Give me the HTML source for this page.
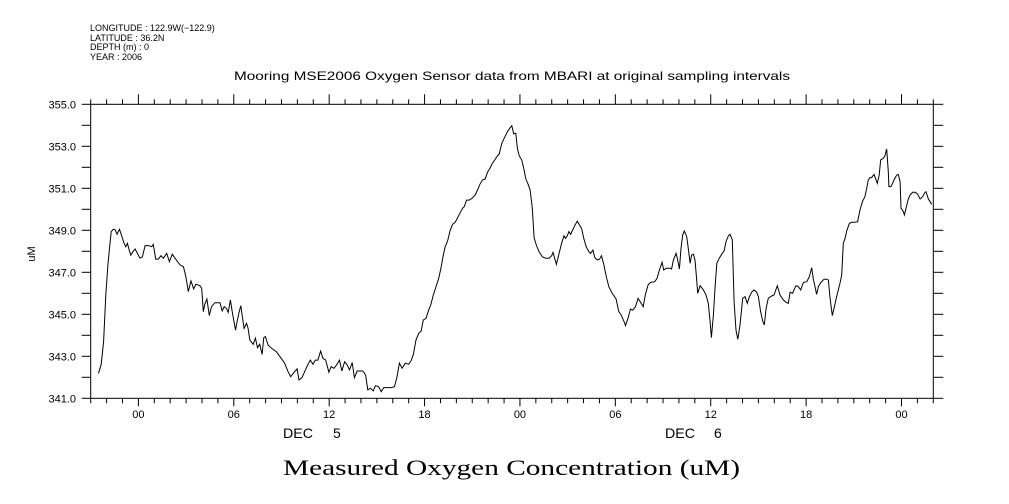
<!DOCTYPE html>
<html><head><meta charset="utf-8"><style>
html,body{margin:0;padding:0;background:#fff;}
svg{display:block;font-family:"Liberation Sans",sans-serif;}
</style></head><body>
<svg id="chart" width="1009" height="504" viewBox="0 0 1009 504" xmlns="http://www.w3.org/2000/svg">
<g font-size="9" fill="#000">
<text x="90" y="31">LONGITUDE : 122.9W(−122.9)</text>
<text x="90" y="41">LATITUDE : 36.2N</text>
<text x="90" y="50">DEPTH (m) : 0</text>
<text x="90" y="60">YEAR : 2006</text>
</g>
<text x="512" y="80" font-size="12" text-anchor="middle" textLength="556" lengthAdjust="spacingAndGlyphs">Mooring MSE2006 Oxygen Sensor data from MBARI at original sampling intervals</text>
<text transform="translate(35,254) rotate(-90)" font-size="11" text-anchor="middle">uM</text>
<g font-size="14">
<text x="283" y="438" textLength="30" lengthAdjust="spacingAndGlyphs">DEC</text>
<text x="333" y="438">5</text>
</g>
<g font-size="14">
<text x="665" y="438" textLength="30" lengthAdjust="spacingAndGlyphs">DEC</text>
<text x="714" y="438">6</text>
</g>
<text x="283" y="475" font-size="22" font-family="Liberation Serif, serif" textLength="457" lengthAdjust="spacingAndGlyphs">Measured Oxygen Concentration (uM)</text>
<g id="axes"></g>
<g id="plot"></g>
</svg>
<script>
const hours = [-2.51,-2.34,-2.19,-2.05,-1.92,-1.82,-1.71,-1.57,-1.46,-1.34,-1.19,-1.04,-0.90,-0.79,-0.69,-0.58,-0.48,-0.35,-0.21,-0.06,0.11,0.25,0.42,0.63,0.84,0.94,1.09,1.26,1.42,1.57,1.78,1.95,2.13,2.30,2.62,2.83,2.99,3.14,3.31,3.47,3.62,3.87,3.98,4.08,4.18,4.31,4.46,4.60,4.81,5.13,5.27,5.40,5.54,5.65,5.79,5.90,6.11,6.21,6.34,6.44,6.55,6.65,6.80,6.90,7.01,7.22,7.36,7.49,7.63,7.78,7.89,7.99,8.16,8.37,8.68,8.99,9.20,9.41,9.58,9.79,9.98,10.10,10.29,10.46,10.67,10.81,10.98,11.13,11.29,11.46,11.61,11.78,11.98,12.13,12.30,12.49,12.65,12.80,12.97,13.11,13.28,13.45,13.59,13.76,14.12,14.29,14.43,14.60,14.77,14.91,15.10,15.27,15.43,
15.54,15.90,16.10,16.25,16.42,16.59,16.79,17.00,17.15,17.30,17.46,17.63,17.78,17.92,18.09,18.26,18.40,18.55,18.72,18.89,19.03,19.18,19.30,19.45,19.60,19.76,19.93,20.08,20.22,20.39,20.50,20.64,20.81,20.98,21.19,21.33,21.48,21.65,21.81,21.96,22.11,22.27,22.42,22.59,22.69,22.86,23.01,23.21,23.36,23.49,23.61,23.74,23.84,23.95,24.11,24.22,24.36,24.51,24.64,24.78,24.89,25.03,25.20,25.41,25.62,25.83,26.00,26.08,26.18,26.29,26.46,26.62,26.77,26.87,26.98,27.08,27.19,27.29,27.46,27.61,27.75,27.88,28.02,28.17,28.34,28.44,28.59,28.71,28.86,29.01,29.13,29.28,29.43,29.59,29.80,30.05,30.22,30.39,30.53,30.64,30.81,30.95,31.10,31.27,31.43,31.58,31.75,31.89,32.06,32.21,32.48,32.62,32.77,32.94,33.04,33.19,
33.44,33.54,33.65,33.82,33.90,34.03,34.13,34.24,34.34,34.49,34.59,34.70,34.80,34.91,35.01,35.12,35.18,35.33,35.54,35.70,35.85,35.96,36.04,36.17,36.27,36.38,36.54,36.69,36.84,36.96,37.11,37.21,37.36,37.47,37.59,37.70,37.84,38.01,38.16,38.30,38.43,38.58,38.72,38.89,39.00,39.14,39.27,39.37,39.48,39.62,39.83,39.98,40.19,40.36,40.57,40.74,40.88,40.99,41.15,41.24,41.36,41.51,41.66,41.83,42.04,42.20,42.35,42.45,42.56,42.66,42.77,42.92,43.13,43.29,43.40,43.50,43.65,43.78,43.92,44.13,44.24,44.34,44.45,44.55,44.72,44.87,45.08,45.24,45.39,45.54,45.70,45.81,45.91,46.02,46.12,46.27,46.40,46.48,46.59,46.69,46.86,46.96,47.03,47.07,47.17,47.21,47.34,47.44,47.53,47.70,47.80,47.91,47.97,48.12,48.18,48.33,48.43,48.54,48.70,48.85,49.00,49.17,49.33,49.48,49.54,49.69,49.90];
const oxygen = [342.19,342.62,343.70,345.92,347.35,348.14,348.94,349.05,349.02,348.81,349.05,348.70,348.38,348.22,348.38,348.06,347.82,347.98,348.11,347.90,347.67,347.74,348.27,348.27,348.22,348.33,347.63,347.63,347.79,347.67,347.90,347.51,347.86,347.67,347.35,347.27,346.79,346.08,346.59,346.21,346.43,346.36,346.24,345.13,345.48,345.73,344.94,345.36,345.55,345.55,345.16,345.36,345.28,345.09,345.68,345.13,344.25,344.65,345.13,345.41,344.84,344.33,344.57,344.33,343.78,343.57,343.86,343.41,343.57,343.09,343.89,343.94,343.54,343.38,343.22,342.90,342.67,342.27,342.03,342.24,342.40,341.87,341.98,342.27,342.62,342.82,342.62,342.82,342.82,343.25,342.90,342.82,342.24,342.51,342.43,342.62,342.82,342.30,342.74,342.62,342.35,342.70,341.98,342.30,342.30,342.11,341.40,341.48,341.35,341.60,341.56,341.32,341.51,
341.51,341.51,341.55,341.95,342.67,342.43,342.67,342.62,342.78,343.09,343.78,344.09,344.20,344.73,344.81,345.20,345.47,345.92,346.32,346.71,347.19,347.82,348.22,348.49,348.97,349.28,349.38,349.60,349.81,350.05,350.13,350.44,350.44,350.52,350.68,350.92,351.19,351.40,351.44,351.76,351.95,352.19,352.35,352.55,352.62,353.14,353.38,353.70,353.86,353.98,353.59,353.62,352.90,352.55,352.35,352.03,351.47,351.19,350.92,350.05,348.65,348.30,347.98,347.74,347.67,347.67,347.79,347.95,347.67,347.38,347.90,348.38,348.74,348.62,348.74,348.94,348.81,348.97,349.25,349.44,349.25,349.09,348.59,348.22,347.98,347.90,348.06,347.70,347.59,347.63,347.79,347.35,346.79,346.32,346.00,345.73,345.13,344.94,344.68,344.46,344.84,345.25,345.20,345.36,345.76,345.57,345.36,345.95,346.40,346.52,346.55,346.71,347.11,347.48,347.11,347.19,
347.19,347.16,347.59,347.90,347.67,347.16,348.14,348.78,348.97,348.70,348.14,347.43,347.82,347.86,347.59,346.63,346.00,346.36,346.16,345.92,345.52,344.65,343.89,344.97,346.24,347.43,347.67,347.86,348.02,348.46,348.74,348.81,348.54,345.60,344.25,343.81,344.49,345.76,345.84,345.52,345.84,346.05,346.16,346.05,345.84,345.13,344.68,344.49,345.28,345.76,345.87,345.92,346.36,345.92,345.68,345.57,345.52,346.05,346.00,346.16,346.36,346.32,346.16,346.52,346.55,346.79,347.22,346.68,346.32,345.95,346.32,346.51,346.67,346.67,346.63,345.79,344.94,345.36,345.84,346.48,346.87,348.38,348.62,348.97,349.33,349.38,349.38,349.41,349.97,350.36,350.60,351.00,351.40,351.51,351.51,351.66,351.40,351.24,351.60,352.35,352.43,352.55,352.78,352.86,351.79,351.08,351.08,351.24,351.40,351.63,351.66,351.32,350.05,349.89,349.73,350.20,350.49,350.68,350.81,350.81,350.74,350.49,350.60,350.81,350.84,350.49,350.24];
const yTickLabels = ["341.0","343.0","345.0","347.0","349.0","351.0","353.0","355.0"];
const xTickLabels = ["00","06","12","18","00","06","12","18","00"];
const xTickHours = [0,6,12,18,24,30,36,42,48];

const X0=90.7, X1=933.3, Y0=104.3, Y1=398.3;
const HMIN=-3, HMAX=50, VMIN=341, VMAX=355;
const sx = h => X0 + (h-HMIN)/(HMAX-HMIN)*(X1-X0);
const sy = v => Y1 - (v-VMIN)/(VMAX-VMIN)*(Y1-Y0);
const NS="http://www.w3.org/2000/svg";
const axes=document.getElementById('axes'), plot=document.getElementById('plot');
function mk(tag, attrs, parent){const e=document.createElementNS(NS,tag);for(const k in attrs)e.setAttribute(k,attrs[k]);parent.appendChild(e);return e;}

const frame=mk('rect',{x:X0,y:Y0,width:X1-X0,height:Y1-Y0,fill:'none',stroke:'#000','stroke-width':1},axes);



for(let v=VMIN; v<=VMAX; v++){
  const y=sy(v);
  const t=mk('line',{x1:X0-9,x2:X0,y1:y,y2:y,stroke:'#000'},axes);
  
  
  const t2=mk('line',{x1:X1,x2:X1+10,y1:y,y2:y,stroke:'#000'},axes);
  
  
}
yTickLabels.forEach(s=>{
  const v=parseFloat(s);
  const tx=mk('text',{x:76,y:sy(v)+4,'font-size':11,'text-anchor':'end'},axes);
  tx.textContent=s;
  
  
});
for(let h=HMIN; h<=HMAX; h++){
  const x=sx(h), major=(h%6===0);
  const b=mk('line',{x1:x,x2:x,y1:Y1,y2:Y1+(major?8:5),stroke:'#000'},axes);
  
  
  const t=mk('line',{x1:x,x2:x,y1:Y0,y2:Y0-(major?10:5),stroke:'#000'},axes);
  
  
}
xTickLabels.forEach((s,i)=>{
  const tx=mk('text',{x:sx(xTickHours[i]),y:418,'font-size':11,'text-anchor':'middle'},axes);
  tx.textContent=s;
  
  
});
let d='';
hours.forEach((h,i)=>{d+=(i?'L':'M')+sx(h).toFixed(1)+' '+sy(oxygen[i]).toFixed(1);});
const line=mk('path',{d:d,fill:'none',stroke:'#000','stroke-width':1},plot);


</script>
</body></html>
